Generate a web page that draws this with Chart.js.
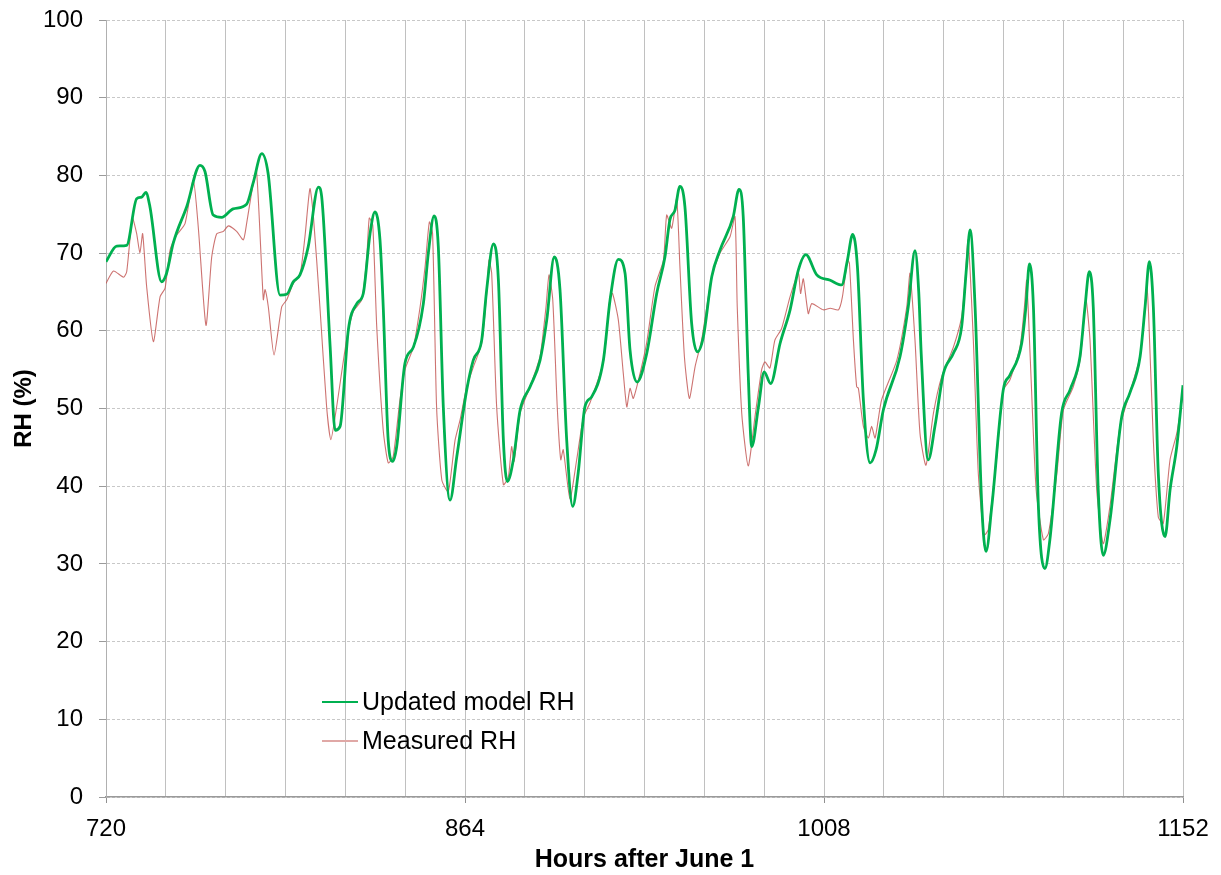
<!DOCTYPE html>
<html>
<head>
<meta charset="utf-8">
<title>RH chart</title>
<script src="https://cdn.jsdelivr.net/npm/chart.js@4.4.1/dist/chart.umd.min.js"></script>
<style>
  body { margin: 0; background: #fff; }
  #wrap { width: 1221px; height: 875px; position: relative; }
</style>
</head>
<body>
<div id="wrap"><canvas id="rhChart"></canvas></div>
<script>
// hours after June 1 and RH (%)
const modelHours = [720, 724.3, 728.3, 732.3, 734.3, 736, 737.6, 742.3, 744.3, 747, 752.4, 757.7, 759.7, 763, 766.4, 771, 776.4, 779, 782.5, 785,
  789.8, 792.5, 795.1, 797.8, 801.1, 805.2, 806.5, 809.9, 811.9, 813.9, 817.2, 820.6, 823.2, 825.9, 827.9, 829.9, 831.2, 833.2, 835, 836.6,
  839.9, 843.3, 847.3, 849.3, 851.6, 853.3, 855.3, 858, 860.7, 864.7, 867.3, 870.7, 872.7, 875.4, 877.4, 879.4, 881, 883.4, 886.1, 890.1,
  894.1, 896.8, 899.8, 902.1, 904.8, 907.2, 909.4, 912.1, 914.8, 919.5, 922.2, 925.5, 928.2, 930.2, 933, 936.9, 940.9, 944.2, 946.2, 948.2,
  950.2, 952.2, 954.9, 957.2, 959.6, 963, 966.3, 971.6, 973.9, 975.6, 977.6, 979, 981.7, 984, 986.6, 990.4, 994.4, 997.7, 1000.7, 1005.1,
  1010.5, 1015.1, 1017.4, 1019.5, 1021.4, 1023.8, 1026.5, 1028.9, 1031.8, 1038.5, 1041.8, 1044.5, 1046, 1047, 1049.8, 1052.5, 1055.9, 1059.9, 1063.2, 1065.2,
  1066.6, 1068.6, 1071.3, 1073, 1075.3, 1079.9, 1082.6, 1087.3, 1089, 1090.4, 1092, 1094, 1096.6, 1098.6, 1103.3, 1106.7, 1110.7, 1112.7, 1114.4, 1116,
  1118, 1120, 1122.7, 1127.4, 1130.7, 1134.8, 1136.8, 1138.5, 1140.1, 1142.1, 1144.8, 1146.8, 1149.5, 1152];
const modelRH = [68.9, 70.9, 71.0, 77.0, 77.2, 77.8, 76.0, 66.3, 67.4, 71.3, 76.0, 81.3, 80.5, 74.9, 74.6, 75.7, 76.3, 79.0, 82.8, 80.3,
  64.6, 64.7, 66.3, 67.2, 70.8, 78.5, 77.3, 58.0, 47.2, 47.7, 60.1, 63.5, 64.8, 72.5, 75.3, 71.7, 63.1, 45.9, 43.2, 45.1,
  55.8, 57.9, 63.5, 70.0, 74.8, 70.8, 50.2, 38.2, 43.8, 52.4, 56.2, 58.8, 65.3, 71.2, 66.5, 45.9, 40.6, 43.4, 49.8, 52.8,
  56.2, 61.4, 69.5, 65.3, 45.9, 37.4, 41.7, 50.2, 51.5, 56.2, 64.0, 69.2, 67.4, 57.5, 53.4, 57.1, 64.8, 69.5, 74.3, 75.5,
  78.6, 76.0, 61.0, 57.3, 59.2, 67.0, 70.4, 74.7, 78.2, 74.7, 54.5, 45.1, 50.2, 54.7, 53.2, 58.4, 62.7, 67.8, 69.8, 67.2,
  66.5, 65.9, 69.1, 72.4, 68.3, 51.1, 43.0, 44.7, 49.8, 56.7, 63.1, 70.3, 65.0, 57.0, 43.4, 47.7, 54.5, 57.1, 60.5, 68.3,
  73.0, 63.1, 37.4, 31.6, 37.4, 52.4, 54.3, 58.4, 63.1, 68.6, 63.1, 37.4, 29.4, 33.1, 49.4, 52.4, 56.7, 63.1, 67.6, 63.1,
  39.5, 31.1, 35.6, 48.9, 52.0, 56.7, 63.1, 68.9, 63.1, 41.6, 33.5, 39.5, 45.1, 53.0];

const measuredHours = [720, 723, 727, 728.3, 730.6, 732.3, 733.6, 734.7, 736.3, 739, 741.7, 743.7, 745.7, 748.3, 751.7, 755, 757, 760.1, 762.4, 764.4,
  767.1, 769.1, 772.4, 775.1, 776.4, 778.8, 780.4, 783.1, 783.8, 785.1, 787.4, 790.5, 792.5, 795.1, 797.8, 799.8, 801.8, 803.2, 805.8, 808.5,
  810.2, 812.5, 816.5, 819.2, 822.6, 824.6, 825.6, 827, 828.6, 831.2, 833.2, 835.2, 837.9, 839.9, 843.3, 846, 848, 849.7, 851, 852.6,
  854.7, 857.3, 860, 862, 864.7, 867.3, 870.7, 872.7, 873.6, 874.7, 876.7, 879.4, 881.4, 882.7, 883.7, 886.1, 890.1, 894.1, 896.5, 897.7,
  899.2, 901, 902.4, 903.4, 906.1, 908.8, 911.5, 914.1, 919.5, 922.2, 923.2, 925.5, 927.5, 928.9, 930.2, 931.5, 934.2, 936.9, 940.2, 943.6,
  944.9, 946.9, 948.9, 950.2, 952, 954, 956.3, 958.9, 963, 966.3, 970.3, 972.3, 973.2, 975, 977.6, 980.3, 983, 984.3, 986.3, 988.3,
  991, 994.4, 997.7, 998.6, 999.7, 1001.7, 1003.1, 1007.7, 1010.5, 1013.8, 1015.4, 1017.4, 1018.2, 1019.8, 1021.1, 1021.8, 1023.8, 1025.8, 1027.1, 1028.5,
  1031.1, 1037.2, 1041.2, 1042.5, 1044.5, 1046.5, 1048.9, 1051.9, 1055.2, 1059.9, 1063.2, 1064.6, 1065.8, 1067.9, 1069.9, 1072.2, 1073.9, 1077.3, 1079.9, 1082.6,
  1086.6, 1088.4, 1089.3, 1090.7, 1093.1, 1096, 1098, 1101.4, 1104, 1108, 1110.7, 1112, 1113.1, 1114.7, 1117.4, 1120, 1122.7, 1126.7, 1129.4, 1134.8,
  1136.1, 1137.5, 1138.2, 1140.1, 1142.1, 1144.1, 1146.8, 1149.5, 1152];
const measuredRH = [66.1, 67.7, 66.9, 67.6, 74.5, 72.5, 70.0, 72.5, 65.7, 58.6, 64.4, 65.5, 70.4, 72.3, 73.8, 79.4, 73.4, 60.7, 69.5, 72.5,
  72.8, 73.5, 72.8, 71.7, 73.8, 78.5, 80.5, 64.0, 65.3, 63.1, 56.9, 63.1, 64.0, 66.1, 67.2, 72.1, 78.3, 74.7, 63.1, 50.2,
  46.0, 50.2, 58.8, 62.5, 64.0, 69.5, 74.5, 73.6, 60.5, 47.2, 43.0, 43.8, 51.1, 55.0, 57.9, 63.1, 68.3, 74.0, 72.5, 50.2,
  40.8, 39.3, 45.9, 48.5, 52.8, 55.3, 58.4, 64.8, 69.1, 67.4, 50.2, 40.2, 41.2, 45.1, 43.2, 49.4, 52.8, 56.7, 63.1, 67.2,
  64.0, 50.2, 43.4, 44.7, 38.4, 43.4, 48.9, 50.7, 56.0, 64.4, 64.8, 61.4, 54.5, 50.2, 52.6, 51.3, 54.5, 58.5, 65.7, 69.1,
  74.9, 73.2, 77.0, 68.3, 56.7, 51.3, 55.4, 58.8, 67.0, 70.0, 72.1, 74.7, 63.1, 49.4, 42.6, 48.9, 55.0, 56.0, 55.2, 58.8,
  60.3, 64.4, 67.4, 64.8, 66.7, 62.2, 63.5, 62.7, 62.9, 62.7, 64.4, 69.1, 68.7, 58.8, 52.8, 52.6, 47.7, 46.2, 47.7, 46.2,
  51.1, 56.2, 63.1, 67.4, 58.8, 46.8, 42.7, 49.4, 54.1, 57.9, 61.8, 66.5, 71.7, 58.8, 41.6, 33.7, 34.4, 43.8, 52.4, 53.7,
  57.9, 63.1, 66.5, 56.7, 39.5, 33.1, 33.9, 41.6, 49.8, 52.8, 56.2, 60.5, 64.0, 58.8, 39.5, 32.6, 37.4, 47.7, 50.7, 56.7,
  60.9, 65.7, 62.2, 45.9, 36.0, 35.2, 43.4, 46.8, 51.9];

const xLabels = [720, 864, 1008, 1152];

Chart.defaults.font.family = "'Liberation Sans', Arial, sans-serif";
Chart.defaults.color = '#000';

// legend sits inside the plot, like the original
const innerLegend = {
  id: 'innerLegend',
  afterDraw(chart) {
    const c = chart.ctx;
    const rows = [[702, 0], [741, 1]];
    c.save();
    c.font = "25px 'Liberation Sans', Arial, sans-serif";
    c.textBaseline = 'middle';
    c.fillStyle = '#000';
    rows.forEach(([y, i]) => {
      const ds = chart.data.datasets[i];
      c.strokeStyle = ds.legendColor;
      c.lineWidth = 2;
      c.beginPath();
      c.moveTo(322, y);
      c.lineTo(358, y);
      c.stroke();
      c.fillText(ds.label, 362, y + 1);
    });
    c.restore();
  }
};

new Chart(document.getElementById('rhChart'), {
  type: 'line',
  data: {
    datasets: [{
      label: 'Updated model RH',
      data: modelHours.map((h, i) => ({ x: h, y: modelRH[i] })),
      borderColor: '#00b050',
      legendColor: '#00b050',
      borderWidth: 2.8,
      pointRadius: 0,
      cubicInterpolationMode: 'monotone'
    }, {
      label: 'Measured RH',
      data: measuredHours.map((h, i) => ({ x: h, y: measuredRH[i] })),
      borderColor: 'rgba(192,80,77,0.8)',
      legendColor: '#e0a8a6',
      borderWidth: 1.1,
      pointRadius: 0,
      tension: 0.2
    }]
  },
  options: {
    responsive: true,
    maintainAspectRatio: false,
    animation: false,
    layout: { padding: { left: 0, top: 20, right: 38, bottom: 0 } },
    plugins: {
      legend: { display: false },
      tooltip: { enabled: false }
    },
    scales: {
      x: {
        type: 'linear',
        min: 720,
        max: 1152,
        afterFit(scale) { scale.height = 78; },
        ticks: {
          stepSize: 24,
          autoSkip: false,
          maxRotation: 0,
          padding: 12,
          font: { size: 24 },
          callback: (v) => xLabels.includes(v) ? v : ''
        },
        grid: {
          color: '#c0c0c0',
          tickLength: 6,
          tickColor: (ctx) => ctx.tick && xLabels.includes(ctx.tick.value) ? '#909090' : 'rgba(0,0,0,0)'
        },
        border: { color: '#9a9a9a', width: 1.5 },
        title: {
          display: true,
          text: 'Hours after June 1',
          font: { size: 25, weight: 'bold' },
          padding: { top: 0, bottom: 0 }
        }
      },
      y: {
        min: 0,
        max: 100,
        afterFit(scale) {
          scale.width = 106;
          // keep the plot top fixed by the layout padding, not the label padding
          scale.paddingTop = 0;
          scale.paddingBottom = 0;
        },
        ticks: {
          stepSize: 10,
          padding: 16,
          font: { size: 24 }
        },
        grid: {
          color: '#c8c8c8',
          tickLength: 7,
          tickColor: '#9a9a9a'
        },
        border: { color: '#b0b0b0', dash: [3, 2] },
        title: {
          display: true,
          text: 'RH (%)',
          font: { size: 24, weight: 'bold' },
          padding: { top: 10, bottom: 0 }
        }
      }
    }
  },
  plugins: [innerLegend]
});
</script>
</body>
</html>
